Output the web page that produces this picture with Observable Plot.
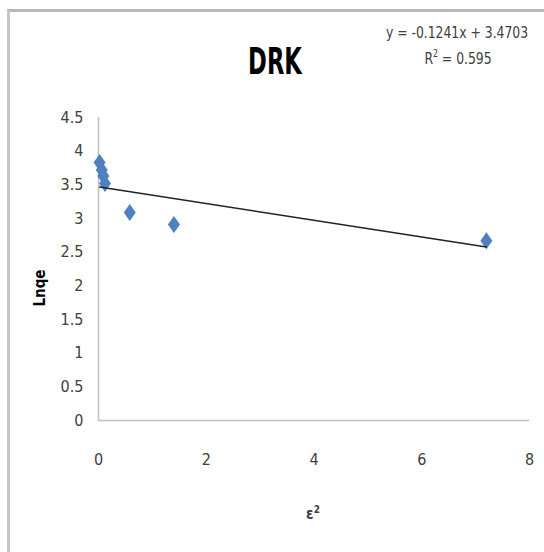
<!DOCTYPE html>
<html>
<head>
<meta charset="utf-8">
<script src="https://cdn.jsdelivr.net/npm/d3@7"></script>
<script src="https://cdn.jsdelivr.net/npm/@observablehq/plot@0.6"></script>
<style>
  body { margin: 0; background: #fff; }
  #wrap { position: relative; width: 544px; height: 552px; overflow: hidden; background: #fff;
          font-family: "Liberation Sans Narrow", "DejaVu Sans Condensed", "Open Sans", sans-serif; }
  #border { position: absolute; left: 7px; top: 9px; width: 600px; height: 600px;
            border-left: 3px solid #c8c8c8; border-top: 3px solid #b8b8b8; }
  .txt { position: absolute; white-space: nowrap; }
  #title { left: 275px; top: 61px; transform: translate(-50%, -50%) scaleX(0.68); font-size: 37px; font-weight: bold; color: #000; }
  #eq1 { left: 457px; top: 32px; transform: translate(-50%, -50%) scaleX(0.86); font-size: 16px; color: #404040; }
  #eq2 { left: 458px; top: 58px; transform: translate(-50%, -50%) scaleX(0.86); font-size: 16px; color: #404040; }
  #xlab { left: 313px; top: 513px; transform: translate(-50%, -50%); font-size: 15px; font-weight: bold; color: #404040; }
  #ylab { left: 40px; top: 288px; transform: translate(-50%, -50%) rotate(-90deg); font-size: 15px; font-weight: bold; color: #000; }
  #chart { position: absolute; left: 0; top: 0; }
</style>
</head>
<body>
<div id="wrap">
  <div id="border"></div>
  <div id="chart"></div>
  <div class="txt" id="title">DRK</div>
  <div class="txt" id="eq1">y = -0.1241x + 3.4703</div>
  <div class="txt" id="eq2">R<sup style="font-size:10px">2</sup> = 0.595</div>
  <div class="txt" id="xlab">ε<sup style="font-size:10px">2</sup></div>
  <div class="txt" id="ylab">Lnqe</div>
</div>
<script>
// data
const eps2 = [0.02, 0.06, 0.09, 0.12, 0.58, 1.40, 7.20];
const lnqe = [3.83, 3.72, 3.63, 3.52, 3.09, 2.91, 2.67];
const slope = -0.1241;
const intercept = 3.4703;
const xTicks = [0, 2, 4, 6, 8];
const yTicks = [0, 0.5, 1, 1.5, 2, 2.5, 3, 3.5, 4, 4.5];

const points = eps2.map((x, i) => ({x, y: lnqe[i]}));
const xmin = d3.min(eps2), xmax = d3.max(eps2);
const trend = [xmin, xmax].map(x => ({x, y: slope * x + intercept}));

// tall diamond marker
const tallDiamond = {
  draw(context, size) {
    const w = 6, h = 8.5;
    context.moveTo(0, -h);
    context.lineTo(w, 0);
    context.lineTo(0, h);
    context.lineTo(-w, 0);
    context.closePath();
  }
};

const chart = Plot.plot({
  width: 544,
  height: 552,
  marginLeft: 98,
  marginRight: 15,
  marginTop: 117,
  marginBottom: 132,
  style: { fontFamily: '"Liberation Sans Narrow", "DejaVu Sans Condensed", sans-serif', fontSize: "16px", color: "#404040", background: "transparent" },
  x: { domain: [0, 8] },
  y: { domain: [0, 4.5] },
  marks: [
    Plot.axisX({ ticks: xTicks, tickSize: 0, tickPadding: 33, label: null, fontSize: 16 }),
    Plot.axisY({ ticks: yTicks, tickSize: 0, tickPadding: 15, label: null, fontSize: 16, tickFormat: d => String(d) }),
    Plot.ruleX([0], { stroke: "#bfbfbf", strokeWidth: 1.5 }),
    Plot.ruleY([0], { stroke: "#bfbfbf", strokeWidth: 1.5 }),
    Plot.dot(points, { x: "x", y: "y", symbol: tallDiamond, fill: "#4f81bd", stroke: "none", r: 6 }),
    Plot.line(trend, { x: "x", y: "y", stroke: "#222", strokeWidth: 1.5 })
  ]
});
document.getElementById("chart").appendChild(chart);
</script>
</body>
</html>
